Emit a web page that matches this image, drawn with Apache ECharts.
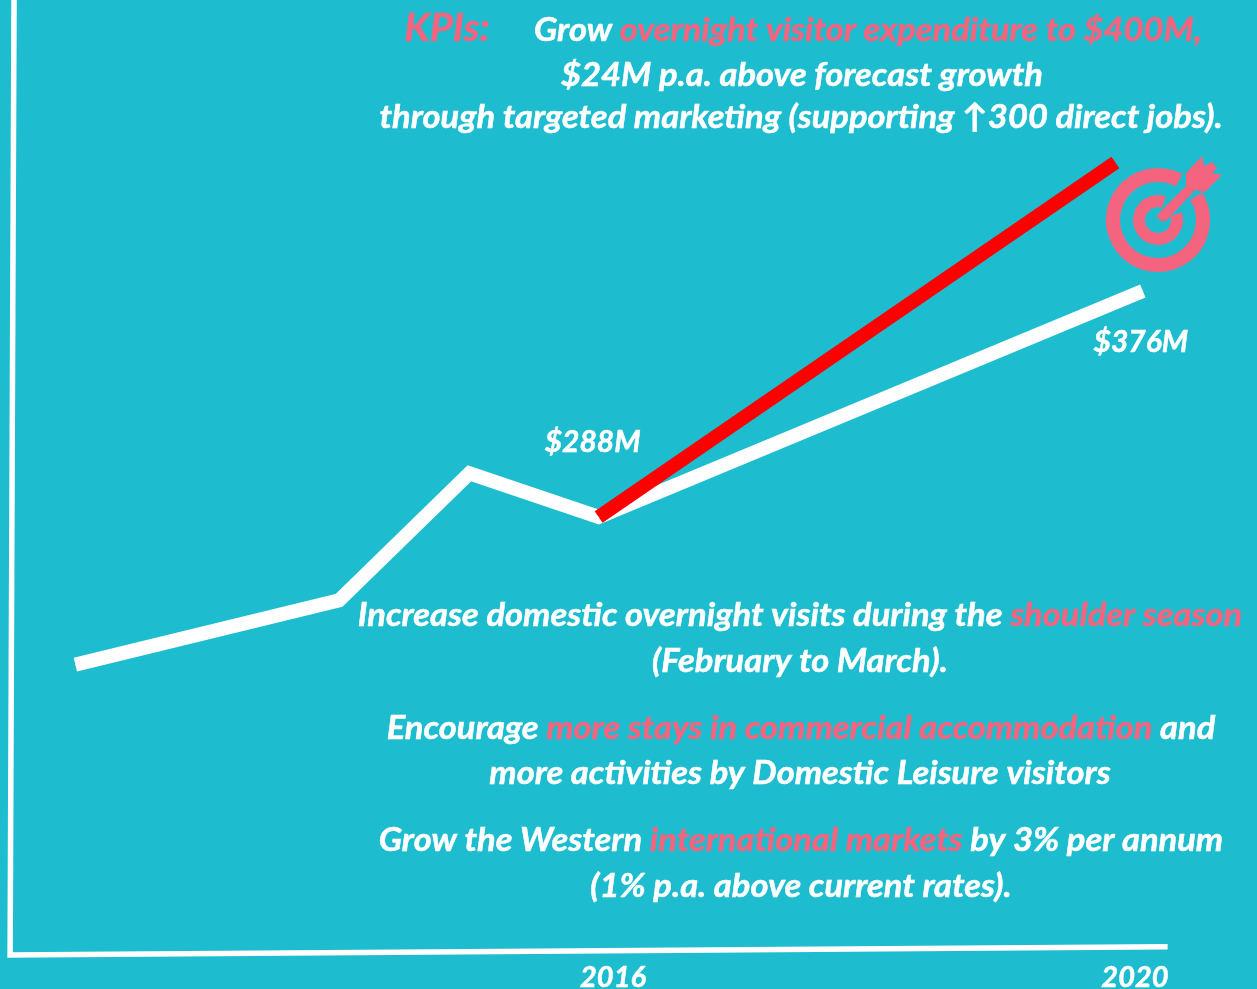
<!DOCTYPE html>
<html>
<head>
<meta charset="utf-8">
<style>html,body{margin:0;padding:0;background:#1DBDCF}#c{width:1257px;height:989px}</style>
<script src="https://cdn.jsdelivr.net/npm/echarts@6/dist/echarts.min.js"></script>
</head>
<body>
<div id="c"></div>
<script>
const tickYears = [2016, 2020];
const actualYears = [2011.88, 2013.9, 2014.9, 2015.89, 2020.06];
const actualValues = [230.5, 255.5, 305, 288, 376];
const actualLabels = ['', '', '', '$288M', '$376M'];
const targetYears = [2015.89, 2019.85];
const targetValues = [288, 426];
const frameYears = [2011.41, 2011.38, 2020.25];
const frameValues = [489.3, 117.4, 120.6];

const TEAL = '#1DBDCF', PINK = '#F4647F', WHITE = '#FFFFFF', RED = '#FF0000';
const FONT = 'Lato, "Noto Sans", sans-serif';
const base = {fontFamily: FONT, fontWeight: 700, fontStyle: 'italic', fontSize: 33, lineWidth: 0.5};
const rich = {w: {...base, fill: WHITE, stroke: WHITE},
  p: {...base, fill: PINK, stroke: PINK},
  k: {...base, fontSize: 38, fill: PINK, stroke: PINK}};

const textLines = [
  [447, 29, '{k|KPIs:}'],
  [868, 30, '{w|Grow }{p|overnight visitor expenditure to $400M,}'],
  [802, 75, '{w|$24M p.a. above forecast growth}'],
  [801, 117, '{w|through targeted marketing (supporting ↑300 direct jobs).}'],
  [800, 615, '{w|Increase domestic overnight visits during the }{p|shoulder season}'],
  [800, 661, '{w|(February to March).}'],
  [801, 728, '{w|Encourage }{p|more stays in commercial accommodation}{w| and}'],
  [800, 773, '{w|more activities by Domestic Leisure visitors}'],
  [801, 840, '{w|Grow the Western }{p|international markets}{w| by 3% per annum}'],
  [801, 886, '{w|(1% p.a. above current rates).}']
];

const rad = d => d * Math.PI / 180;
const iconX = 1158, iconY = 220;
const arrowPts = [[1186,173],[1202,156],[1204,166],[1212,162],[1217,168],[1212,173],[1222,175],[1205,192],[1195,190],[1166,221],[1160,221],[1157,215],[1186,186]];

const graphic = textLines.map(([x, y, t]) => ({
  type: 'text', x, y, scaleX: 1.045, silent: true,
  style: {legacy: false, text: t, rich, align: 'center', verticalAlign: 'middle'}
})).concat([
  {type: 'arc', shape: {cx: iconX, cy: iconY, r: 45, startAngle: rad(-32), endAngle: rad(-62+360), clockwise: true},
   style: {stroke: PINK, lineWidth: 14, fill: null}},
  {type: 'arc', shape: {cx: iconX, cy: iconY, r: 19, startAngle: rad(-18), endAngle: rad(-72+360), clockwise: true},
   style: {stroke: PINK, lineWidth: 12, fill: null}},
  {type: 'polygon', shape: {points: arrowPts}, style: {fill: PINK}}
]);

const chart = echarts.init(document.getElementById('c'), null, {renderer: 'canvas'});
chart.setOption({
  animation: false,
  backgroundColor: TEAL,
  grid: {left: 6.2, right: 56.75, top: 0, bottom: 32.9, containLabel: false, outerBoundsMode: 'none'},
  xAxis: {
    type: 'value', min: 2011.35, max: 2020.5,
    splitLine: {show: false}, axisLine: {show: false}, axisTick: {show: false},
    axisLabel: {
      customValues: tickYears, margin: 7, color: WHITE,
      fontFamily: FONT, fontWeight: 700, fontStyle: 'italic', fontSize: 29,
      textBorderColor: WHITE, textBorderWidth: 0.5,
      formatter: v => String(Math.round(v))
    }
  },
  yAxis: {type: 'value', min: 117, max: 489.3, show: false},
  series: [
    {
      type: 'line', clip: false, symbol: 'none', silent: true,
      data: frameYears.map((x, i) => [x, frameValues[i]]),
      lineStyle: {color: WHITE, width: 5.5, join: 'miter'}
    },
    {
      type: 'line', clip: false, silent: true,
      symbol: 'circle', symbolSize: 1, showSymbol: true, showAllSymbol: true,
      itemStyle: {color: WHITE},
      data: actualYears.map((x, i) => ({
        value: [x, actualValues[i]],
        label: actualLabels[i] ? {
          show: true, formatter: actualLabels[i],
          position: i === 3 ? 'top' : 'bottom',
          distance: i === 3 ? 59 : 36,
          offset: i === 3 ? [-6, 0] : [-2, 0],
          color: WHITE, fontFamily: FONT, fontWeight: 700, fontStyle: 'italic', fontSize: 30,
          textBorderColor: WHITE, textBorderWidth: 0.5
        } : {show: false}
      })),
      lineStyle: {color: WHITE, width: 14, join: 'miter', cap: 'butt'}
    },
    {
      type: 'line', clip: false, symbol: 'none', silent: true,
      data: targetYears.map((x, i) => [x, targetValues[i]]),
      lineStyle: {color: RED, width: 14, cap: 'butt'}
    }
  ],
  graphic
});
</script>
</body>
</html>
